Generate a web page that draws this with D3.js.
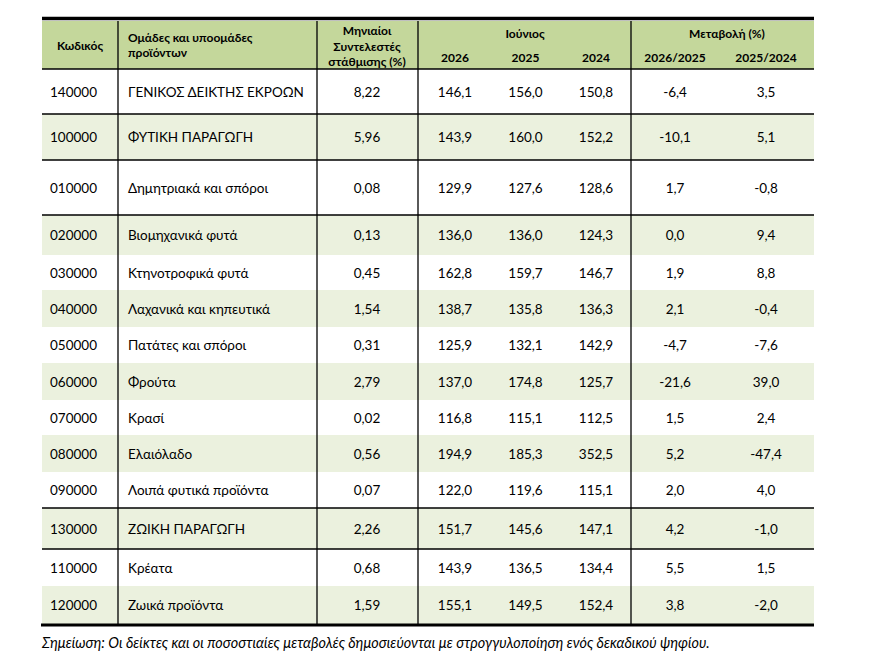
<!DOCTYPE html>
<html>
<head>
<meta charset="utf-8">
<script src="https://cdn.jsdelivr.net/npm/d3@7"></script>
<style>
  body { margin: 0; background: #fff; }
  svg { font-family: Lato, "Noto Sans", sans-serif; }
</style>
</head>
<body>
<div id="table"></div>
<script>
// table data
const codes = ["140000", "100000", "010000", "020000", "030000", "040000", "050000",
               "060000", "070000", "080000", "090000", "130000", "110000", "120000"];
const names = ["ΓΕΝΙΚΟΣ ΔΕΙΚΤΗΣ ΕΚΡΟΩΝ", "ΦΥΤΙΚΗ ΠΑΡΑΓΩΓΗ", "Δημητριακά και σπόροι",
               "Βιομηχανικά φυτά", "Κτηνοτροφικά φυτά", "Λαχανικά και κηπευτικά",
               "Πατάτες και σπόροι", "Φρούτα", "Κρασί", "Ελαιόλαδο", "Λοιπά φυτικά προϊόντα",
               "ΖΩΙΚΗ ΠΑΡΑΓΩΓΗ", "Κρέατα", "Ζωικά προϊόντα"];
const weights = [8.22, 5.96, 0.08, 0.13, 0.45, 1.54, 0.31, 2.79, 0.02, 0.56, 0.07, 2.26, 0.68, 1.59];
const idx2026 = [146.1, 143.9, 129.9, 136.0, 162.8, 138.7, 125.9, 137.0, 116.8, 194.9, 122.0, 151.7, 143.9, 155.1];
const idx2025 = [156.0, 160.0, 127.6, 136.0, 159.7, 135.8, 132.1, 174.8, 115.1, 185.3, 119.6, 145.6, 136.5, 149.5];
const idx2024 = [150.8, 152.2, 128.6, 124.3, 146.7, 136.3, 142.9, 125.7, 112.5, 352.5, 115.1, 147.1, 134.4, 152.4];
const chg2625 = [-6.4, -10.1, 1.7, 0.0, 1.9, 2.1, -4.7, -21.6, 1.5, 5.2, 2.0, 4.2, 5.5, 3.8];
const chg2524 = [3.5, 5.1, -0.8, 9.4, 8.8, -0.4, -7.6, 39.0, 2.4, -47.4, 4.0, -1.0, 1.5, -2.0];
const years = ["2026", "2025", "2024"];
const periods = ["2026/2025", "2025/2024"];
const note = "Σημείωση: Οι δείκτες και οι ποσοστιαίες μεταβολές δημοσιεύονται με στρογγυλοποίηση ενός δεκαδικού ψηφίου.";

// layout
const width = 885;
const height = 669;
const tableLeft = 42, tableRight = 814;
const headTop = 21, headBottom = 69;
const rowHeights = [45, 46, 55, 40, 35, 37, 36, 37, 35, 37, 36, 41, 37, 38];
const greenRows = [1, 3, 5, 7, 9, 11, 13];
const lineAfter = [0, 1, 2, 10, 11]; // black rules below these rows
const colLines = [118, 317, 418, 631];

const grk = d3.formatLocale({decimal: ",", thousands: ".", grouping: [3], currency: ["", "€"], minus: "-"});
const f1 = grk.format(".1f");
const f2 = grk.format(".2f");

const rows = codes.map((c, i) => ({
  i: i, code: c, name: names[i], w: weights[i],
  vals: [idx2026[i], idx2025[i], idx2024[i]],
  chg: [chg2625[i], chg2524[i]]
}));

// y positions from cumulative row heights
const rowEdges = [headBottom].concat(Array.from(d3.cumsum(rowHeights), h => headBottom + h));
const tableBottom = rowEdges[rowEdges.length - 1];

const xYears = d3.scalePoint().domain(years).range([455, 596]);
const xChg = d3.scalePoint().domain(periods).range([675, 766]);

const svg = d3.select("#table")
  .append("svg")
  .attr("width", width)
  .attr("height", height);

// header background
svg.append("rect")
  .attr("x", tableLeft).attr("y", headTop)
  .attr("width", tableRight - tableLeft).attr("height", headBottom - headTop)
  .attr("fill", "#c4d79b");

// row backgrounds
svg.selectAll(".rowbg")
  .data(rows.filter(d => greenRows.includes(d.i)))
  .enter().append("rect")
  .attr("class", "rowbg")
  .attr("x", tableLeft)
  .attr("y", d => rowEdges[d.i])
  .attr("width", tableRight - tableLeft)
  .attr("height", d => rowEdges[d.i + 1] - rowEdges[d.i])
  .attr("fill", "#ebf1de");

// header text
const head = svg.append("g")
  .attr("font-size", "12px")
  .attr("font-weight", "bold")
  .attr("fill", "#000");

head.append("text").attr("x", 80).attr("y", 50).attr("text-anchor", "middle").text("Κωδικός");
head.append("text").attr("x", 128).attr("y", 42).text("Ομάδες και υποομάδες");
head.append("text").attr("x", 128).attr("y", 57).text("προϊόντων");
["Μηνιαίοι", "Συντελεστές", "στάθμισης (%)"].forEach((t, k) => {
  head.append("text").attr("x", 367).attr("y", 35 + k * 15.5).attr("text-anchor", "middle").text(t);
});
head.append("text").attr("x", 525).attr("y", 38).attr("text-anchor", "middle").text("Ιούνιος");
head.append("text").attr("x", 727).attr("y", 38).attr("text-anchor", "middle").text("Μεταβολή (%)");
head.selectAll(".yr").data(years).enter().append("text")
  .attr("x", d => xYears(d)).attr("y", 62).attr("text-anchor", "middle").text(d => d);
head.selectAll(".pr").data(periods).enter().append("text")
  .attr("x", d => xChg(d)).attr("y", 62).attr("text-anchor", "middle").text(d => d);

// body rows
const body = svg.selectAll(".row")
  .data(rows)
  .enter().append("g")
  .attr("class", "row")
  .attr("transform", d => `translate(0,${(rowEdges[d.i] + rowEdges[d.i + 1]) / 2 + 5})`)
  .attr("font-size", "13.5px")
  .attr("fill", "#000");

body.append("text").attr("x", 50).text(d => d.code);
body.append("text").attr("x", 128).text(d => d.name);
body.append("text").attr("x", 367).attr("text-anchor", "middle").text(d => f2(d.w));
body.selectAll(".v").data(d => d.vals).enter().append("text")
  .attr("x", (v, k) => xYears(years[k])).attr("text-anchor", "middle").text(v => f1(v));
body.selectAll(".c").data(d => d.chg).enter().append("text")
  .attr("x", (v, k) => xChg(periods[k])).attr("text-anchor", "middle").text(v => f1(v));

// rules
const lines = svg.append("g").attr("stroke", "#000");
lines.selectAll(".hl")
  .data([headBottom].concat(lineAfter.map(i => rowEdges[i + 1])))
  .enter().append("line")
  .attr("x1", tableLeft).attr("x2", tableRight)
  .attr("y1", d => d).attr("y2", d => d)
  .attr("stroke-width", 1.3);
lines.selectAll(".vl")
  .data(colLines)
  .enter().append("line")
  .attr("x1", d => d).attr("x2", d => d)
  .attr("y1", headTop).attr("y2", tableBottom)
  .attr("stroke-width", 1.3);
lines.append("line")
  .attr("x1", tableLeft).attr("x2", tableRight)
  .attr("y1", 18.5).attr("y2", 18.5).attr("stroke-width", 3.5);
lines.append("line")
  .attr("x1", tableLeft - 1).attr("x2", tableRight)
  .attr("y1", tableBottom + 1).attr("y2", tableBottom + 1).attr("stroke-width", 3);

// footnote
svg.append("text")
  .attr("x", 42).attr("y", 648)
  .attr("font-size", "14.4px")
  .attr("font-style", "italic")
  .attr("fill", "#000")
  .text(note);
</script>
</body>
</html>
